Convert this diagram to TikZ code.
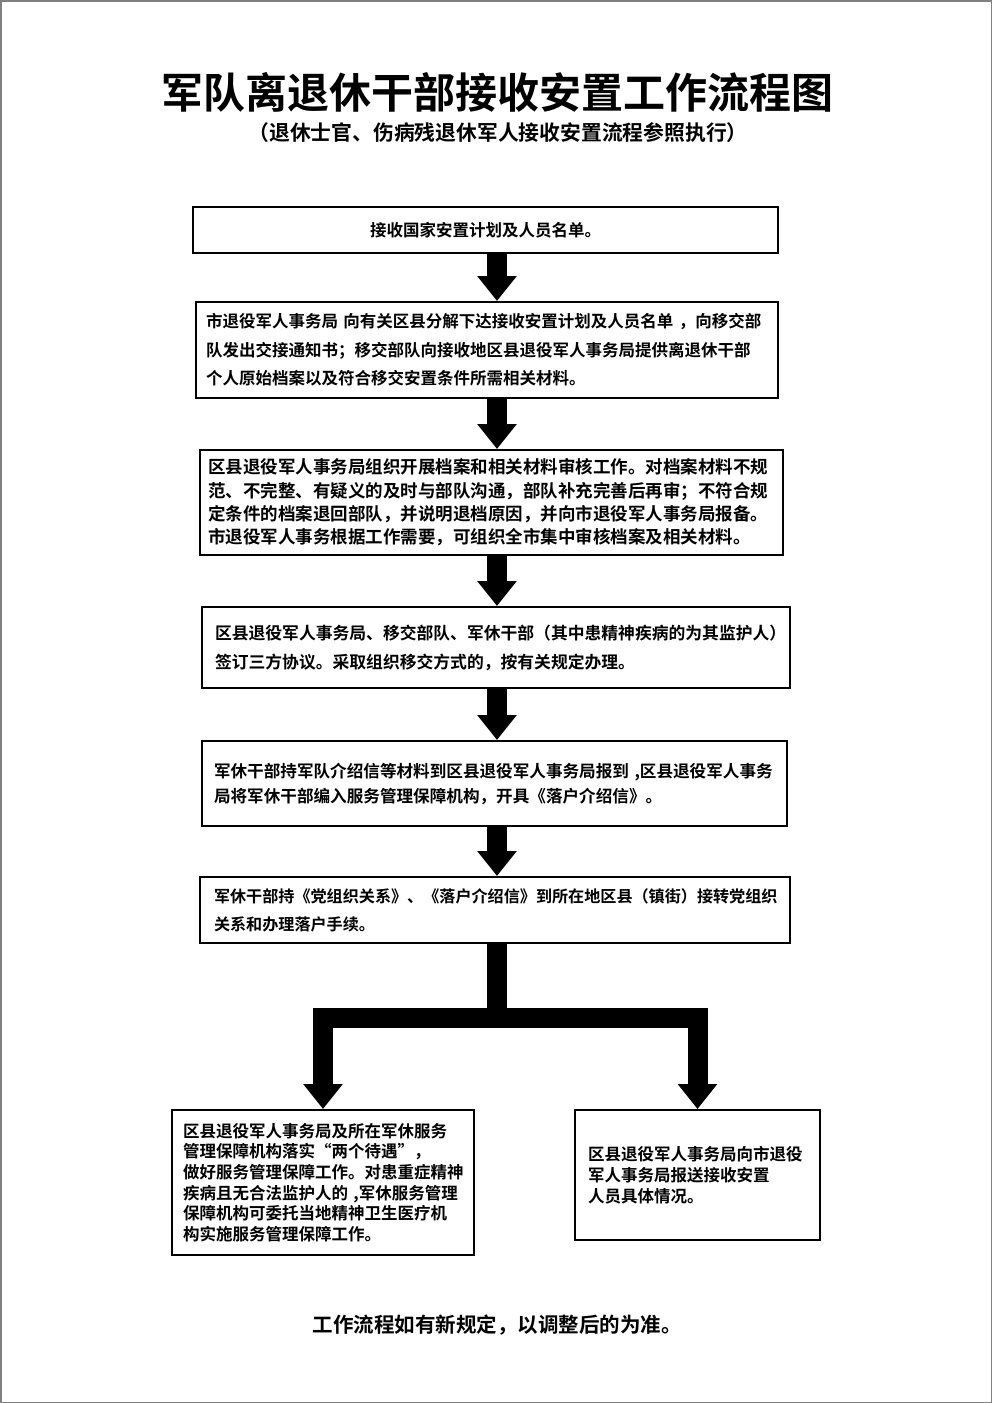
\documentclass[tikz,border=0pt]{standalone}
\usepackage{fontspec}
\setmainfont{Noto Sans CJK SC}[BoldFont={Noto Sans CJK SC Bold}]
\usetikzlibrary{arrows.meta}
\begin{document}
\begin{tikzpicture}[x=1pt,y=-1pt,
  box/.style={draw=black, line width=2pt, rectangle, inner ysep=0pt, font=\bfseries},
  fat/.style={line width=20pt, draw=black},
  fatarrow/.style={fat, line join=miter, -{Triangle[length=25pt,width=38pt]}},
  ttl/.style={inner sep=0pt, font=\bfseries}]
\useasboundingbox (0,0) rectangle (992,1403);
\draw[gray, line width=1.5pt] (0.75,0.75) rectangle (991.25,1402.25);
\coordinate (ax) at (497,0);

\node[ttl, font=\bfseries\fontsize{42}{48}\selectfont] (title) at (497,92) {军队离退休干部接收安置工作流程图};
\node[ttl, font=\bfseries\fontsize{20.8}{24}\selectfont] (sub) at (498,133) {（退休士官、伤病残退休军人接收安置流程参照执行）};

\node[box, minimum width=585pt, minimum height=46pt, font=\bfseries\fontsize{16.5}{20}\selectfont] (b1) at (485.5,230) {接收国家安置计划及人员名单。};

\node[box, align=left, text width=562pt, inner xsep=10pt, minimum height=96pt, font=\bfseries\fontsize{16.5}{28.5}\selectfont] (b2) at (487,350)
{市退役军人事务局~向有关区县分解下达接收安置计划及人员名单~，向移交部\\
队发出交接通知书；移交部队向接收地区县退役军人事务局提供离退休干部\\
个人原始档案以及符合移交安置条件所需相关材料。};

\node[box, align=left, text width=567pt, inner xsep=8pt, minimum height=105pt, font=\bfseries\fontsize{17.5}{23.3}\selectfont] (b3) at (491.5,502.5)
{区县退役军人事务局组织开展档案和相关材料审核工作。对档案材料不规\\
范、不完整、有疑义的及时与部队沟通，部队补充完善后再审；不符合规\\
定条件的档案退回部队，并说明退档原因，并向市退役军人事务局报备。\\
市退役军人事务根据工作需要，可组织全市集中审核档案及相关材料。};

\node[box, align=left, text width=562pt, inner xsep=13pt, minimum height=81pt, font=\bfseries\fontsize{16.8}{29}\selectfont] (b4) at (496,647.5)
{区县退役军人事务局、移交部队、军休干部（其中患精神疾病的为其监护人）\\
签订三方协议。采取组织移交方式的，按有关规定办理。};

\node[box, align=left, text width=561pt, inner xsep=12pt, minimum height=85pt, font=\bfseries\fontsize{16.6}{25}\selectfont] (b5) at (494.5,783.5)
{军休干部持军队介绍信等材料到区县退役军人事务局报到~,区县退役军人事务\\
局将军休干部编入服务管理保障机构，开具《落户介绍信》。};

\node[box, align=left, text width=562pt, inner xsep=14pt, minimum height=66pt, font=\bfseries\fontsize{16.1}{28}\selectfont] (b6) at (495,910)
{军休干部持《党组织关系》、《落户介绍信》到所在地区县（镇街）接转党组织\\
关系和办理落户手续。};

\node[box, align=left, text width=280pt, inner xsep=11pt, minimum height=145pt, font=\bfseries\fontsize{16.5}{20.6}\selectfont] (b7) at (323,1182.5)
{区县退役军人事务局及所在军休服务\\
管理保障机构落实“两个待遇”，\\
做好服务管理保障工作。对患重症精神\\
疾病且无合法监护人的~,军休服务管理\\
保障机构可委托当地精神卫生医疗机\\
构实施服务管理保障工作。};

\node[box, align=left, text width=219pt, inner xsep=13pt, minimum height=130pt, font=\bfseries\fontsize{16.5}{21}\selectfont] (b8) at (697.5,1175)
{区县退役军人事务局向市退役\\
军人事务局报送接收安置\\
人员具体情况。};

\node[ttl, font=\bfseries\fontsize{20.5}{24}\selectfont] (foot) at (497,1325) {工作流程如有新规定，以调整后的为准。};

\draw[fatarrow] (b1.south -| ax) -- (b2.north -| ax);
\draw[fatarrow] (b2.south -| ax) -- (b3.north -| ax);
\draw[fatarrow] (b3.south -| ax) -- (b4.north -| ax);
\draw[fatarrow] (b4.south -| ax) -- (b5.north -| ax);
\draw[fatarrow] (b5.south -| ax) -- (b6.north -| ax);

\coordinate (split) at (497,1018);
\draw[fat] (b6.south -| ax) -- (split);
\draw[fatarrow] (split) -| (b7.north);
\draw[fatarrow] (split) -| (b8.north);
\end{tikzpicture}
\end{document}
